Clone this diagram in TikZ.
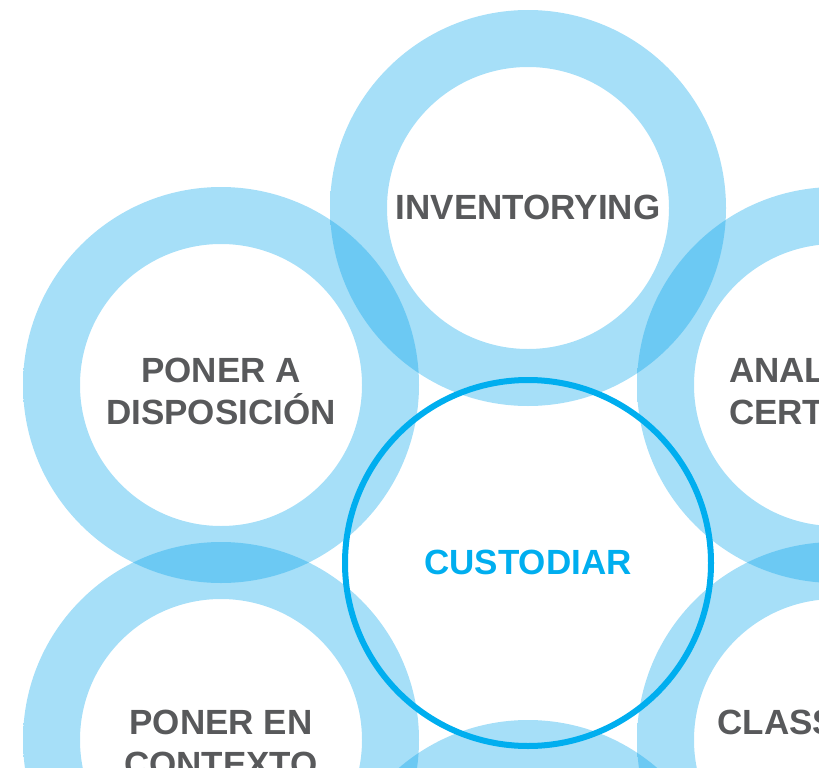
\documentclass[tikz,border=0pt]{standalone}
\usepackage{fontspec}
\setmainfont{Liberation Sans}
\definecolor{ringin}{RGB}{0,162,234}
\definecolor{ringmid}{RGB}{0,150,228}
\definecolor{ringout}{RGB}{0,168,238}
\definecolor{custblue}{RGB}{0,174,239}
\definecolor{labelgrey}{RGB}{88,89,91}
\pgfdeclareradialshading{ringfade}{\pgfpoint{0bp}{0bp}}{%
  color(0bp)=(ringin); color(35.6bp)=(ringin); color(41bp)=(ringmid);
  color(50bp)=(ringout); color(72bp)=(ringout)}
\tikzset{
  ring/.style={shading=ringfade, fill opacity=0.35, even odd rule},
  hub/.style={draw=custblue, line width=6pt},
  lbl/.style={font=\bfseries\fontsize{35}{42}\selectfont, text=labelgrey,
    align=center, inner sep=0pt, anchor=base}
}
\begin{document}
\begin{tikzpicture}[x=1pt,y=-1pt]
\useasboundingbox (0,0) rectangle (819,768);
\clip (0,0) rectangle (819,768);
% rings round the hub
\foreach \cx/\cy in {528/208,221/385,835/385,221/740,835/740,528/918}
  \shade[ring] (\cx,\cy) circle[radius=198] (\cx,\cy) circle[radius=141];
\draw[hub] (528,563) circle[radius=183];
% labels, base = last line
\node[lbl] (inventory) at (528,219) {INVENTORYING};
\node[lbl] (dispose) at (221,424) {PONER A\\DISPOSICIÓN};
\node[lbl] (analyse) at (835,424) {ANALIZAR Y\\CERTIFICAR};
\node[lbl, text=custblue] (custody) at (528,574) {CUSTODIAR};
\node[lbl] (context) at (221,776) {PONER EN\\CONTEXTO};
\node[lbl] (classify) at (835,734) {CLASSIFYING};
\end{tikzpicture}
\end{document}
